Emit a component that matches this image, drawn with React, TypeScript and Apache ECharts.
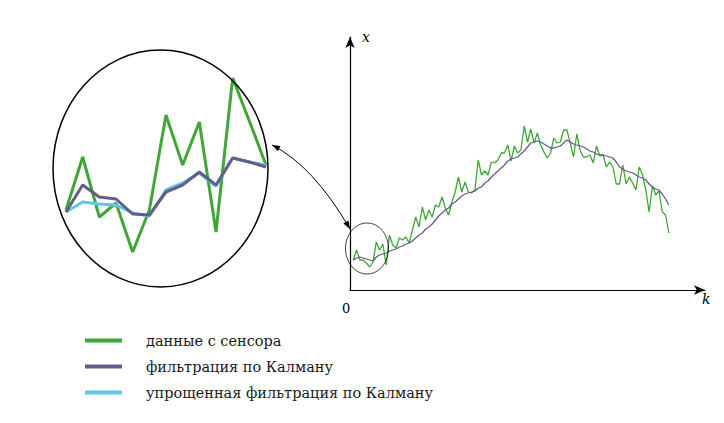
import React, { useEffect, useRef } from "react";
import * as echarts from "echarts";

// main chart: sensor samples k = 1..97, values above the k-axis
const sensorData = [30,40,30,30,27,23,28,48,40,46,25,55,45,42,52,50,53,47,60,73,63,83,70,80,73,85,83,93,82,75,88,98,113,98,108,98,97,100,130,115,119,115,128,127,130,137,137,145,129,144,137,140,164,148,161,147,157,145,138,132,137,152,147,148,160,160,147,133,156,140,133,133,135,127,144,134,135,123,128,123,106,106,125,106,113,107,100,123,115,100,78,104,95,99,78,75,57];
const kalmanData = [30,32,33,32,31,30,29,33,35,36,37,39,40,41,43,44,46,47,49,52,55,57,61,63,66,70,74,77,80,82,86,88,91,94,96,97,98,99,102,103,107,109,113,116,119,122,125,129,131,132,133,136,139,143,147,148,149,148,146,144,142,142,143,144,147,150,148,146,145,144,143,141,139,138,136,135,135,134,133,132,128,123,121,119,118,117,115,113,112,110,106,103,101,100,96,91,85];

// magnified inset: first 13 samples
const insetSensor = [90,143,83,97,48,90,185,135,178,68,222,179,135];
const insetKalman = [88,115,103,101,86,85,108,115,128,115,142,138,133];
const insetSimple = [88,98,96,95,87,84,110,117,127,114,142,138,135];

const NAMES = ["данные с сенсора", "фильтрация по Калману", "упрощенная фильтрация по Калману"];
const GREEN = "#40a637";
const PURPLE = "#635c8c";
const BLUE = "#5bc8ea";
const SERIF = "DejaVu Serif";

const toPairs = (arr: number[], start: number) => arr.map((v, i) => [i + start, v]);

export default function App() {
  const ref = useRef<HTMLDivElement>(null);
  useEffect(() => {
    if (!ref.current) return;
    const chart = echarts.init(ref.current, null, { renderer: "svg" });
    // arrow geometry
    const p0 = [272, 145], c = [313, 165.5], p2 = [350, 229];
    const head = (tip: number[], dir: number[]) => {
      const len = Math.hypot(dir[0], dir[1]);
      const d = [dir[0] / len, dir[1] / len];
      const b = [tip[0] - 8 * d[0], tip[1] - 8 * d[1]];
      const pp = [-d[1] * 3, d[0] * 3];
      return [tip, [b[0] + pp[0], b[1] + pp[1]], [b[0] - pp[0], b[1] - pp[1]]];
    };
    chart.setOption({
      animation: false,
      backgroundColor: "#fff",
      textStyle: { fontFamily: SERIF },
      legend: {
        orient: "vertical",
        left: 80,
        top: 328,
        itemWidth: 37,
        itemHeight: 4,
        itemGap: 11,
        icon: "rect",
        data: NAMES,
        textStyle: { fontFamily: SERIF, fontSize: 14.5, color: "#1a1a1a", padding: [0, 0, 0, 19] },
        selectedMode: false,
      },
      grid: [
        { left: 350, right: 19, top: 37, bottom: 133 },
        { left: 66, right: 458, top: 0, bottom: 123 },
      ],
      xAxis: [
        {
          type: "value", gridIndex: 0, min: 0, max: 108,
          axisLine: { show: true, onZero: false, symbol: ["none", "arrow"], symbolSize: [7, 11], lineStyle: { color: "#000", width: 1.2 } },
          axisTick: { show: false }, axisLabel: { show: false }, splitLine: { show: false },
        },
        { type: "value", gridIndex: 1, min: 0, max: 12, show: false },
      ],
      yAxis: [
        {
          type: "value", gridIndex: 0, min: 0, max: 253,
          axisLine: { show: true, onZero: false, symbol: ["none", "arrow"], symbolSize: [7, 11], lineStyle: { color: "#000", width: 1.2 } },
          axisTick: { show: false }, axisLabel: { show: false }, splitLine: { show: false },
        },
        { type: "value", gridIndex: 1, min: 0, max: 300, show: false },
      ],
      series: [
        { name: NAMES[0], type: "line", xAxisIndex: 0, yAxisIndex: 0, data: toPairs(sensorData, 1), showSymbol: false, color: GREEN, lineStyle: { width: 1.3, color: GREEN } },
        { name: NAMES[1], type: "line", xAxisIndex: 0, yAxisIndex: 0, data: toPairs(kalmanData, 1), showSymbol: false, color: PURPLE, lineStyle: { width: 1.3, color: PURPLE } },
        { name: NAMES[0], type: "line", xAxisIndex: 1, yAxisIndex: 1, data: toPairs(insetSensor, 0), showSymbol: false, color: GREEN, lineStyle: { width: 3, color: GREEN } },
        { name: NAMES[2], type: "line", xAxisIndex: 1, yAxisIndex: 1, data: toPairs(insetSimple, 0), showSymbol: false, color: BLUE, lineStyle: { width: 3, color: BLUE } },
        { name: NAMES[1], type: "line", xAxisIndex: 1, yAxisIndex: 1, data: toPairs(insetKalman, 0), showSymbol: false, color: PURPLE, lineStyle: { width: 3, color: PURPLE } },
      ],
      graphic: [
        { type: "ellipse", shape: { cx: 160.5, cy: 168.5, rx: 107.5, ry: 118.5 }, style: { fill: "none", stroke: "#000", lineWidth: 1.5 }, z: 10 },
        { type: "ellipse", shape: { cx: 367, cy: 248.5, rx: 21.5, ry: 25.5 }, style: { fill: "none", stroke: "#111", lineWidth: 0.8 }, z: 10 },
        { type: "bezierCurve", shape: { x1: p0[0], y1: p0[1], cpx1: c[0], cpy1: c[1], x2: p2[0], y2: p2[1] }, style: { fill: "none", stroke: "#000", lineWidth: 1 }, z: 10 },
        { type: "polygon", shape: { points: head(p0, [p0[0] - c[0], p0[1] - c[1]]) }, style: { fill: "#000" }, z: 10 },
        { type: "polygon", shape: { points: head(p2, [p2[0] - c[0], p2[1] - c[1]]) }, style: { fill: "#000" }, z: 10 },
        { type: "text", x: 362, y: 30, style: { text: "x", font: `italic 14px ${SERIF}`, fill: "#000" }, z: 10 },
        { type: "text", x: 702, y: 292, style: { text: "k", font: `italic 14px ${SERIF}`, fill: "#000" }, z: 10 },
        { type: "text", x: 342, y: 302, style: { text: "0", font: `13px ${SERIF}`, fill: "#000" }, z: 10 },
      ],
    });
    return () => chart.dispose();
  }, []);
  return <div ref={ref} style={{ position: "absolute", left: 0, top: 0, width: 724, height: 423 }} />;
}
